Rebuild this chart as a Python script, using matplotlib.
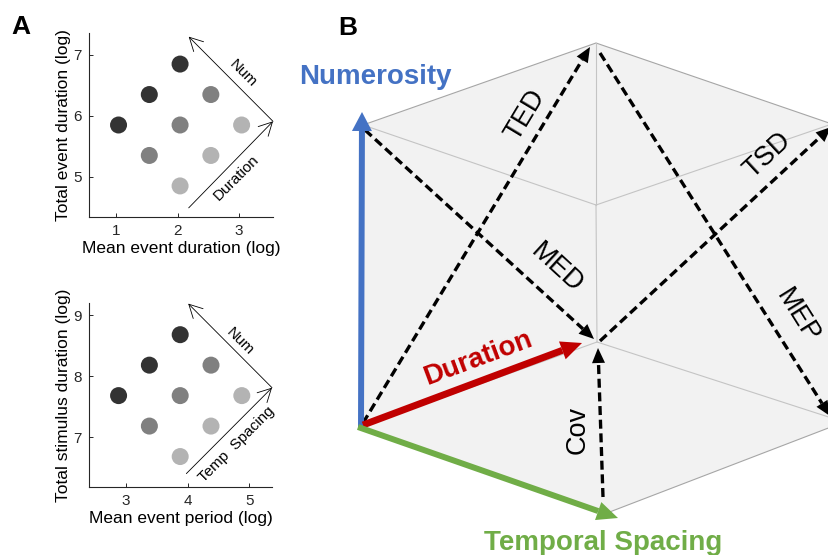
import numpy as np
import matplotlib
matplotlib.use("Agg")
import matplotlib.pyplot as plt
from matplotlib.patches import Polygon

plt.rcParams['font.family'] = ['Liberation Sans', 'DejaVu Sans']

# ---- panel A data: stimulus grid in log space ----
dur_x = [1.04, 1.54, 2.04, 1.54, 2.04, 2.54, 2.04, 2.54, 3.04]
dur_y = [5.85, 6.35, 6.85, 5.35, 5.85, 6.35, 4.85, 5.35, 5.85]
per_x = [2.88, 3.38, 3.88, 3.38, 3.88, 4.38, 3.88, 4.38, 4.88]
per_y = [7.68, 8.18, 8.68, 7.18, 7.68, 8.18, 6.68, 7.18, 7.68]
shades = ['#333333'] * 3 + ['#808080'] * 3 + ['#b3b3b3'] * 3

dur_xticks = [1, 2, 3]
dur_yticks = [5, 6, 7]
per_xticks = [3, 4, 5]
per_yticks = [7, 8, 9]

# direction arrows drawn inside each grid: (start, end)
dur_num_arrow = ((3.55, 5.91), (2.18, 7.30))
dur_dur_arrow = ((2.18, 4.49), (3.55, 5.91))
per_num_arrow = ((5.37, 7.81), (4.01, 9.19))
per_ts_arrow = ((3.98, 6.40), (5.37, 7.81))

# ---- panel B data: schematic cube corners (pixel space) ----
O = (361, 427)
TL = (363, 125)
T = (596, 43)
TR = (832, 124)
BR = (844, 422)
B = (607, 513)
C_back = (596, 205)
C_front = (597, 342)

hex_outline = [O, TL, T, TR, BR, B]
inner_edges = [(TL, C_back), (C_back, TR), (T, C_back), (C_back, C_front),
               (O, C_front), (C_front, BR)]

# derived dimensions (dashed) : name, start, tip, label pos, label rotation
derived = [
    ('TED', (363, 423), (590, 47), (525, 115), 59),
    ('MED', (365, 130), (594, 339), (557, 268), -42.5),
    ('TSD', (600, 341), (831, 127), (767, 155), 43),
    ('MEP', (600, 53), (830, 416), (797, 316), -58),
    ('Cov', (603, 497), (598, 348), (578, 430), 90),
]

BLUE = '#4472C4'
RED = '#C00000'
GREEN = '#70AD47'


def draw_arrow(ax, p0, p1, color, lw, head_len, head_w, ls='-'):
    p0 = np.asarray(p0, float)
    p1 = np.asarray(p1, float)
    d = (p1 - p0) / np.hypot(*(p1 - p0))
    base = p1 - d * head_len
    ax.plot([p0[0], base[0]], [p0[1], base[1]], color=color, lw=lw, ls=ls,
            solid_capstyle='butt', dash_capstyle='butt', zorder=3)
    n = np.array([-d[1], d[0]])
    tri = [p1, base + n * head_w / 2, base - n * head_w / 2]
    ax.add_patch(Polygon(tri, closed=True, fc=color, ec='none', zorder=3))


def grid_panel(ax, xs, ys, xlim, ylim, xticks, yticks, xlabel, ylabel,
               arrows, labels):
    ax.scatter(xs, ys, s=150, c=shades, edgecolors='none', zorder=2)
    ax.set_xlim(*xlim)
    ax.set_ylim(*ylim)
    ax.set_xticks(xticks)
    ax.set_yticks(yticks)
    for s in ['top', 'right']:
        ax.spines[s].set_visible(False)
    for s in ['left', 'bottom']:
        ax.spines[s].set_color('#262626')
        ax.spines[s].set_linewidth(0.8)
    ax.tick_params(direction='in', length=3, width=0.7, labelsize=11,
                   colors='#262626', pad=5)
    ax.set_xlabel(xlabel, fontsize=12.5, labelpad=2)
    ax.set_ylabel(ylabel, fontsize=12.5, labelpad=2)
    for start, end in arrows:
        ax.annotate('', xy=end, xytext=start, annotation_clip=False,
                    arrowprops=dict(arrowstyle='->,head_length=0.95,head_width=0.5',
                                    lw=0.6, color='k', shrinkA=0, shrinkB=0))
    for text, (x, y), rot in labels:
        ax.text(x, y, text, fontsize=11, rotation=rot, ha='center',
                va='center', rotation_mode='anchor')


fig = plt.figure(figsize=(8.29, 5.55), dpi=100)

# ---- panel B ----
axb = fig.add_axes([0, 0, 1, 1])
axb.set_xlim(0, 829)
axb.set_ylim(555, 0)
axb.axis('off')
axb.patch.set_alpha(0)

axb.add_patch(Polygon(hex_outline, closed=True, fc='#f2f2f2', ec='#a6a6a6',
                      lw=0.8, zorder=1))
for a, b in inner_edges:
    axb.plot([a[0], b[0]], [a[1], b[1]], color='#c4c4c4', lw=0.8, zorder=1)

for name, p0, p1, pos, rot in derived:
    draw_arrow(axb, p0, p1, 'k', 2.4, 15, 13, ls=(0, (2.7, 1.4)))
    axb.text(pos[0], pos[1], name, fontsize=19.5, rotation=rot, ha='center',
             va='center', rotation_mode='anchor')

draw_arrow(axb, O, (362, 112), BLUE, 4.3, 19, 20)
draw_arrow(axb, (363, 425), (582, 343), RED, 5.0, 21, 19)
draw_arrow(axb, (358, 427), (618, 518), GREEN, 4.3, 21, 19)

axb.text(375, 84, 'Numerosity', color=BLUE, fontsize=20, fontweight='bold',
         ha='center', va='baseline')
axb.text(478, 358, 'Duration', color=RED, fontsize=20, fontweight='bold',
         ha='center', va='center', rotation=20.5, rotation_mode='anchor')
axb.text(603, 550, 'Temporal Spacing', color=GREEN, fontsize=20,
         fontweight='bold', ha='center', va='baseline')

# ---- panel A ----
ax1 = fig.add_axes([89 / 829, 1 - 217 / 555, 184 / 829, 184 / 555])
grid_panel(ax1, dur_x, dur_y, (0.56, 3.55), (4.34, 7.36), dur_xticks,
           dur_yticks, 'Mean event duration (log)', 'Total event duration (log)',
           [dur_num_arrow, dur_dur_arrow],
           [('Num', (3.07, 6.69), -45), ('Duration', (2.95, 4.98), 45)])

ax2 = fig.add_axes([89 / 829, 1 - 487 / 555, 183 / 829, 184 / 555])
grid_panel(ax2, per_x, per_y, (2.40, 5.37), (6.18, 9.20), per_xticks,
           per_yticks, 'Mean event period (log)', 'Total stimulus duration (log)',
           [per_num_arrow, per_ts_arrow],
           [('Num', (4.85, 8.56), -45), ('Temp  Spacing', (4.80, 6.87), 45)])

fig.text(21 / 829, 1 - 27 / 555, 'A', fontsize=19, fontweight='bold',
         ha='center', va='center')
fig.text(348 / 829, 1 - 28 / 555, 'B', fontsize=19, fontweight='bold',
         ha='center', va='center')

fig.savefig('out.png', dpi=100)
